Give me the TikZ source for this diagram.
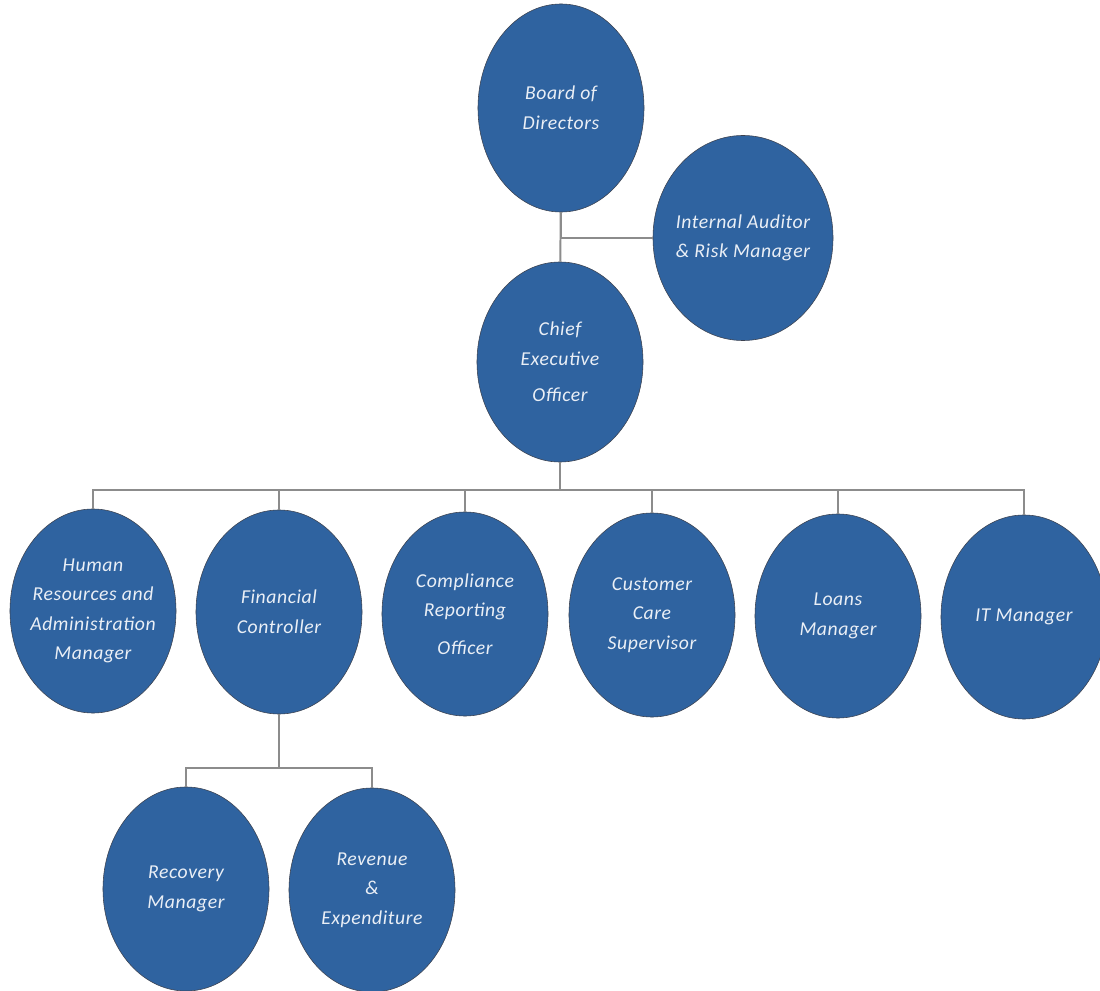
\documentclass[tikz,border=0pt]{standalone}
\usepackage{fontspec}
\setmainfont{Carlito}
\newfontfamily\postfont[LetterSpace=3]{Carlito}
\usetikzlibrary{shapes.geometric}
\definecolor{postblue}{RGB}{47,99,160}
\definecolor{postedge}{RGB}{60,66,80}
\definecolor{linkgray}{RGB}{140,140,140}

\begin{document}
\begin{tikzpicture}[x=0.025cm,y=-0.025cm,
        post/.style={ellipse,fill=postblue,draw=postedge,line width=0.4pt,inner sep=-1cm,
            minimum width=4.15cm,minimum height=5.1cm,align=center,text=white!90!postblue,
            font=\postfont\itshape\fontsize{14}{21}\selectfont},
        link/.style={draw=linkgray,line width=1.4pt}]
                \useasboundingbox[fill=white] (0,0) rectangle (1100,991);

                \node[post,minimum height=5.2cm] (board) at (561,108) {Board of\\Directors};
                \node[post,minimum width=4.5cm,minimum height=5.125cm] (auditor) at (743,238) {Internal Auditor\\\& Risk Manager};
                \node[post,minimum height=5cm] (ceo) at (560,362) {Chief\\Executive\\[5pt]Officer};

                \node[post] (hr) at (93,611) {Human\\Resources and\\Administration\\Manager};
                \node[post] (fin) at (279,612) {Financial\\Controller};
                \node[post] (comp) at (465,614) {Compliance\\Reporting\\[6pt]Officer};
                \node[post] (care) at (652,615) {Customer\\Care\\Supervisor};
                \node[post] (loans) at (838,616) {Loans\\Manager};
                \node[post] (it) at (1024,617) {IT Manager};

                \node[post] (recovery) at (186,889) {Recovery\\Manager};
                \node[post] (revenue) at (372,890) {Revenue\\\&\\Expenditure};

                \coordinate (bar) at (560,490);
                \coordinate (finbar) at (279,768);

                \draw[link] (board) -- (ceo);
                \draw[link] (auditor) -| (board);
                \draw[link] (ceo) -- (bar);
                \foreach \p in {hr,fin,comp,care,loans,it}
                    \draw[link] (bar) -| (\p);
                \draw[link] (fin) -- (finbar);
                \draw[link] (finbar) -| (recovery);
                \draw[link] (finbar) -| (revenue);
            \end{tikzpicture}
\end{document}
